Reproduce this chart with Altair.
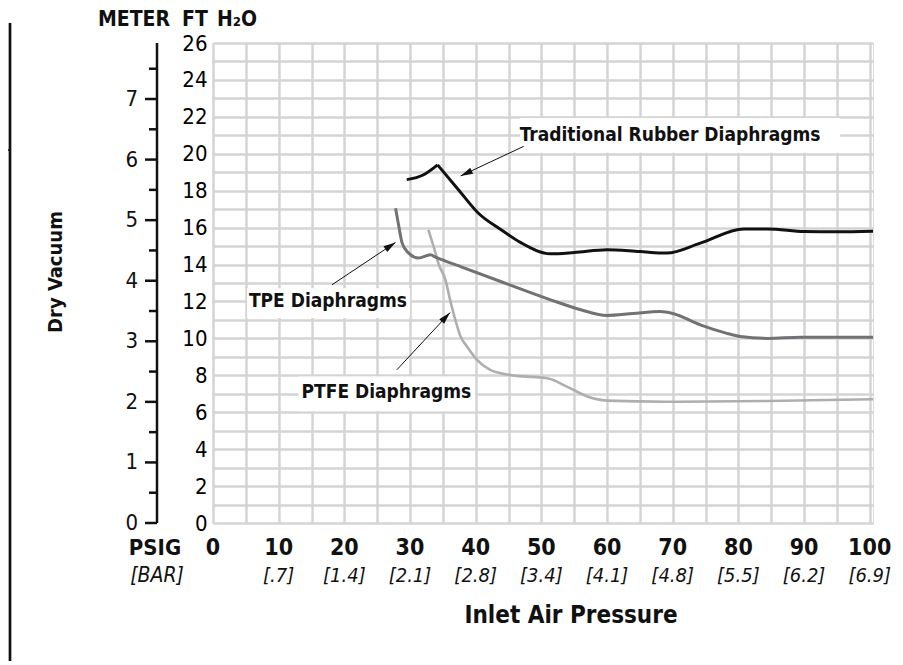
import math
import altair as alt
import pandas as pd

# ---------------- data ----------------
rubber_psig = [29.5, 32.0, 34.2, 37.5, 40.5, 43.8, 46.8, 51.4, 55.0, 60.0, 65.0, 69.1, 74.2, 80.8, 84.5, 90.0, 95.0, 100.5]
rubber_ft = [18.6, 18.85, 19.4, 18.0, 16.75, 15.9, 15.2, 14.58, 14.65, 14.8, 14.7, 14.62, 15.16, 15.93, 15.93, 15.79, 15.77, 15.8]
rubber_peak = 2

tpe_psig = [27.8, 28.3, 28.8, 29.8, 31.3, 33.1, 33.9, 38.0, 43.8, 51.4, 56.0, 60.0, 64.0, 68.1, 70.0, 74.2, 78.0, 80.3, 84.5, 89.5, 95.0, 100.5]
tpe_ft = [17.05, 16.06, 15.16, 14.62, 14.35, 14.53, 14.4, 13.85, 13.08, 12.09, 11.55, 11.24, 11.35, 11.45, 11.35, 10.73, 10.3, 10.1, 10.0, 10.06, 10.06, 10.06]

ptfe_psig = [32.8, 33.6, 34.4, 35.4, 36.1, 36.9, 37.7, 38.7, 40.2, 42.2, 43.8, 46.3, 50.9, 53.9, 57.0, 60.0, 69.1, 84.4, 100.5]
ptfe_ft = [15.88, 14.97, 13.98, 13.17, 12.09, 11.0, 10.1, 9.55, 8.83, 8.29, 8.11, 7.97, 7.84, 7.39, 6.85, 6.63, 6.57, 6.61, 6.7]

psig_ticks = [0, 10, 20, 30, 40, 50, 60, 70, 80, 90, 100]
bar_ticks = [10, 20, 30, 40, 50, 60, 70, 80, 90, 100]
bar_labels = ["[.7]", "[1.4]", "[2.1]", "[2.8]", "[3.4]", "[4.1]", "[4.8]", "[5.5]", "[6.2]", "[6.9]"]

meter_major = [0, 1, 2, 3, 4, 5, 6, 7]
meter_minor = [0.5, 1.5, 2.5, 3.5, 4.5, 5.5, 6.5, 7.5]
FT_PER_M = 1 / 0.3048

label_names = ["Traditional Rubber Diaphragms", "TPE Diaphragms", "PTFE Diaphragms"]
label_psig = [69.6, 17.5, 26.4]
label_ft = [21.0, 12.0, 7.1]
box_x0 = [46.8, 5.2, 13.0]
box_x1 = [95.5, 30.0, 39.9]
box_y0 = [20.05, 11.1, 6.05]
box_y1 = [21.94, 12.72, 7.93]
arrow_xs = [47.3, 18.1, 28.0]
arrow_ys = [20.4, 12.9, 8.3]
arrow_xt = [37.7, 27.8, 36.1]
arrow_yt = [18.8, 15.2, 11.4]

# ---------------- layout ----------------
W, H = 660, 480
XMAX, YMAX = 100.5, 26
OX, OY = 213, 43  # page position of plot origin
FONT = "DejaVu Sans Condensed, Liberation Sans Narrow, sans-serif"
GRID = "#d4d4d4"

xs = alt.Scale(domain=[0, XMAX], nice=False, zero=False)
ys = alt.Scale(domain=[0, YMAX], nice=False, zero=False)
AX_X = alt.Axis(values=list(range(0, 101, 5)), labels=False, ticks=False, domain=False,
                grid=True, gridColor=GRID, gridWidth=2.5, title=None)
AX_Y = alt.Axis(values=list(range(0, 27)), labelExpr="datum.value % 2 == 0 ? datum.label : ''",
                labelFont=FONT, labelFontSize=22, labelColor="#000", labelPadding=6,
                labelOverlap=False, ticks=False, domain=False, grid=True, gridColor=GRID,
                gridWidth=2.5, title=None)


def X(f):
    return alt.X(f, type="quantitative", scale=xs, axis=AX_X)


def Y(f):
    return alt.Y(f, type="quantitative", scale=ys, axis=AX_Y)


def px(v):
    return alt.value(v - OX)


def py(v):
    return alt.value(v - OY)


# ---------------- tables ----------------
rows = []
for i, (p, f) in enumerate(zip(rubber_psig, rubber_ft)):
    if i <= rubber_peak:
        rows.append({"psig": p, "ft": f, "seg": "r1"})
    if i >= rubber_peak:
        rows.append({"psig": p, "ft": f, "seg": "r2"})
rubber_df = pd.DataFrame(rows)
tpe_df = pd.DataFrame({"psig": tpe_psig, "ft": tpe_ft})
ptfe_df = pd.DataFrame({"psig": ptfe_psig, "ft": ptfe_ft})

ppx, ppy = W / XMAX, H / YMAX
angles = []
for a, b, c, d in zip(arrow_xs, arrow_ys, arrow_xt, arrow_yt):
    dx = (c - a) * ppx
    dy = (d - b) * ppy
    angles.append(math.degrees(math.atan2(dx, dy)) % 360)
ann_df = pd.DataFrame({"name": label_names, "lx": label_psig, "ly": label_ft,
                       "x0": box_x0, "x1": box_x1, "y0": box_y0, "y1": box_y1,
                       "xs": arrow_xs, "ys": arrow_ys, "xt": arrow_xt, "yt": arrow_yt,
                       "ang": angles})

psig_df = pd.DataFrame({"psig": psig_ticks, "lab": [str(v) for v in psig_ticks]})
bar_df = pd.DataFrame({"psig": bar_ticks, "lab": bar_labels})
mmaj_df = pd.DataFrame({"ft": [m * FT_PER_M for m in meter_major], "lab": [str(m) for m in meter_major]})
mmin_df = pd.DataFrame({"ft": [m * FT_PER_M for m in meter_minor]})
one = pd.DataFrame({"a": [0]})

# ---------------- layers ----------------
lines_rubber = alt.Chart(rubber_df).mark_line(color="#111111", strokeWidth=3, interpolate="monotone").encode(
    x=X("psig"), y=Y("ft"), detail="seg:N")
lines_tpe = alt.Chart(tpe_df).mark_line(color="#727276", strokeWidth=3, interpolate="monotone").encode(
    x=X("psig"), y=Y("ft"))
lines_ptfe = alt.Chart(ptfe_df).mark_line(color="#adafaf", strokeWidth=2.6, interpolate="monotone").encode(
    x=X("psig"), y=Y("ft"))

boxes = alt.Chart(ann_df).mark_rect(fill="white").encode(x=X("x0"), x2="x1", y=Y("y0"), y2="y1")
arrow_lines = alt.Chart(ann_df).mark_rule(color="#111", strokeWidth=1).encode(
    x=X("xs"), y=Y("ys"), x2="xt", y2="yt")
arrow_heads = alt.Chart(ann_df).mark_point(shape="M0,0L-0.55,2L0.55,2Z", size=150, filled=True,
                                           color="#111", opacity=1).encode(
    x=X("xt"), y=Y("yt"), angle=alt.Angle("ang:Q", scale=None))
ann_text = alt.Chart(ann_df).mark_text(font=FONT, fontSize=19, fontWeight="bold", color="#111").encode(
    x=X("lx"), y=Y("ly"), text="name:N")

psig_text = alt.Chart(psig_df).mark_text(font=FONT, fontSize=23, fontWeight="bold", color="#111",
                                         baseline="middle").encode(x=X("psig"), y=py(548), text="lab:N")
bar_text = alt.Chart(bar_df).mark_text(font=FONT, fontSize=20, fontStyle="italic", color="#111",
                                       baseline="middle").encode(x=X("psig"), y=py(576), text="lab:N")

# meter axis
m_line = alt.Chart(one).mark_rule(color="#111", strokeWidth=2.5).encode(
    x=px(157), y=alt.Y(datum=0, scale=ys, axis=AX_Y), y2=alt.Y2(datum=YMAX))
m_major = alt.Chart(mmaj_df).mark_rule(color="#111", strokeWidth=2.5).encode(
    x=px(145), x2=px(157), y=Y("ft"))
m_minor = alt.Chart(mmin_df).mark_rule(color="#111", strokeWidth=2.5).encode(
    x=px(149), x2=px(157), y=Y("ft"))
m_text = alt.Chart(mmaj_df).mark_text(font=FONT, fontSize=22, color="#111", align="right",
                                      baseline="middle").encode(x=px(138), y=Y("ft"), text="lab:N")


def free_text(txt, x, y, size, weight="bold", style="normal", angle=0, align="center"):
    kw = dict(font=FONT, fontSize=size, fontWeight=weight, fontStyle=style, color="#111",
              align=align, baseline="middle", text=txt)
    if angle:
        kw["angle"] = angle
    return alt.Chart(one).mark_text(**kw).encode(x=px(x), y=py(y))


texts = [
    free_text("METER", 134, 20, 21),
    free_text("FT", 195, 20, 21),
    free_text("H₂O", 237, 20, 21),
    free_text("PSIG", 155, 548, 22),
    free_text("[BAR]", 157, 576, 21, weight="normal", style="italic"),
    free_text("Inlet Air Pressure", 571, 616, 24),
    free_text("Dry Vacuum", 56, 272, 20, angle=270),
]

border_v = alt.Chart(one).mark_rule(color="#111", strokeWidth=2.7).encode(x=px(10), y=py(23), y2=py(665))
border_h = alt.Chart(one).mark_rule(color="#111", strokeWidth=1.5).encode(x=px(0), x2=px(10), y=py(150))

chart = alt.layer(
    boxes, lines_ptfe, lines_tpe, lines_rubber, arrow_lines, arrow_heads, ann_text,
    psig_text, bar_text, m_line, m_major, m_minor, m_text, border_v, border_h, *texts
).properties(
    width=W, height=H,
    autosize=alt.AutoSizeParams(type="none"),
    padding={"left": OX - 8, "top": OY - 8, "right": 22, "bottom": 138},
).configure_view(stroke=None).configure(background="white")

chart.save("out.html", embed_options={"renderer": "svg", "actions": False})
